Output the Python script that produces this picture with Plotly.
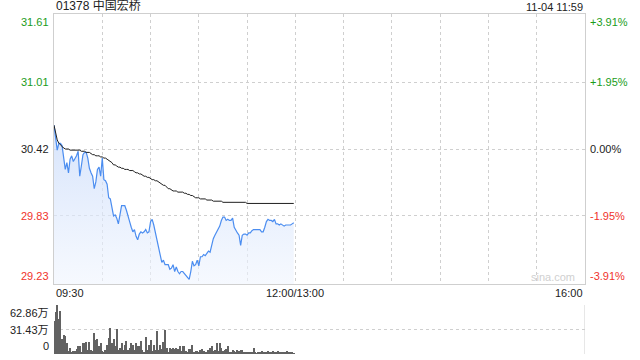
import plotly.graph_objects as go
from plotly.subplots import make_subplots

title_text = "01378 中国宏桥"
time_text = "11-04 11:59"
prev_close = 30.42

# price per minute from 09:30 (minute index 0..149)
price = [30.63, 30.50, 30.41, 30.47, 30.47, 30.45, 30.33, 30.24, 30.30, 30.21,
         30.33, 30.36, 30.31, 30.33, 30.36, 30.40, 30.18, 30.27, 30.37, 30.39,
         30.39, 30.34, 30.25, 30.21, 30.18, 30.07, 30.13, 30.24, 30.26, 30.18,
         30.34, 30.15, 30.14, 30.11, 29.99, 29.98, 29.91, 29.83, 29.84, 29.81,
         29.76, 29.86, 29.92, 29.92, 29.92, 29.88, 29.82, 29.78, 29.73, 29.69,
         29.71, 29.65, 29.62, 29.67, 29.69, 29.68, 29.69, 29.71, 29.68, 29.69,
         29.78, 29.80, 29.75, 29.68, 29.60, 29.53, 29.46, 29.42, 29.44, 29.40,
         29.40, 29.40, 29.36, 29.37, 29.40, 29.34, 29.38, 29.34, 29.32, 29.34,
         29.34, 29.32, 29.31, 29.29, 29.27, 29.34, 29.43, 29.39, 29.40, 29.44,
         29.39, 29.47, 29.47, 29.49, 29.48, 29.50, 29.52, 29.51, 29.58, 29.63,
         29.66, 29.69, 29.71, 29.74, 29.79, 29.82, 29.82, 29.79, 29.80, 29.79,
         29.79, 29.81, 29.73, 29.70, 29.68, 29.66, 29.57, 29.66, 29.67, 29.67,
         29.66, 29.68, 29.68, 29.70, 29.71, 29.71, 29.71, 29.71, 29.71, 29.69,
         29.69, 29.73, 29.78, 29.80, 29.79, 29.79, 29.78, 29.80, 29.76, 29.76,
         29.75, 29.76, 29.75, 29.74, 29.75, 29.75, 29.75, 29.75, 29.76, 29.77]

avg_price = [30.63, 30.55, 30.50, 30.47, 30.46, 30.44, 30.43, 30.42, 30.42, 30.42,
             30.41, 30.41, 30.41, 30.41, 30.41, 30.41, 30.41, 30.40, 30.40, 30.40,
             30.39, 30.39, 30.39, 30.38, 30.37, 30.37, 30.36, 30.36, 30.36, 30.35,
             30.35, 30.34, 30.34, 30.33, 30.32, 30.31, 30.30, 30.28, 30.28, 30.27,
             30.26, 30.26, 30.25, 30.25, 30.24, 30.24, 30.24, 30.23, 30.23, 30.23,
             30.22, 30.21, 30.21, 30.20, 30.20, 30.19, 30.18, 30.18, 30.17, 30.17,
             30.16, 30.15, 30.15, 30.14, 30.14, 30.13, 30.12, 30.11, 30.10, 30.10,
             30.08, 30.07, 30.07, 30.06, 30.05, 30.05, 30.05, 30.04, 30.04, 30.04,
             30.04, 30.03, 30.03, 30.02, 30.02, 30.01, 30.01, 30.00, 29.99, 29.99,
             29.99, 29.98, 29.98, 29.98, 29.98, 29.97, 29.97, 29.97, 29.97, 29.96,
             29.96, 29.96, 29.96, 29.96, 29.96, 29.95, 29.95, 29.95, 29.95, 29.95,
             29.95, 29.95, 29.95, 29.95, 29.95, 29.95, 29.95, 29.95, 29.95, 29.95,
             29.94, 29.94, 29.94, 29.94, 29.94, 29.94, 29.94, 29.94, 29.94, 29.94,
             29.94, 29.94, 29.94, 29.94, 29.94, 29.94, 29.94, 29.94, 29.94, 29.94,
             29.94, 29.94, 29.94, 29.94, 29.94, 29.94, 29.94, 29.94, 29.94, 29.94]

# volume per minute, unit 万
volume = [42.0, 53.5, 62.86, 45.3, 55.6, 19.2, 24.8, 23.5, 14.1, 3.4,
          7.7, 1.3, 3.4, 3.4, 6.4, 10.7, 9.8, 1.3, 14.1, 14.1,
          15.0, 4.7, 15.0, 5.6, 3.4, 26.9, 18.4, 19.2, 10.7, 14.1,
          3.4, 1.3, 5.6, 12.0, 20.5, 33.4, 14.1, 19.2, 9.8, 32.1,
          5.6, 7.7, 14.1, 5.6, 12.0, 16.3, 5.6, 7.7, 14.1, 12.0,
          5.6, 14.1, 9.8, 9.8, 16.3, 5.6, 2.1, 21.8, 5.6, 12.0,
          18.4, 3.4, 12.0, 5.6, 29.1, 5.6, 12.0, 6.4, 15.0, 30.4,
          7.7, 1.3, 7.7, 6.4, 7.7, 6.4, 7.7, 6.4, 9.8, 3.4,
          10.7, 9.8, 3.4, 2.1, 6.4, 6.4, 12.0, 2.1, 3.4, 4.3,
          1.3, 5.6, 6.4, 3.4, 2.1, 2.1, 5.6, 7.7, 9.8, 3.4,
          5.6, 14.1, 3.4, 14.1, 7.7, 3.4, 5.6, 6.4, 10.7, 2.1,
          1.3, 5.6, 3.4, 2.1, 5.6, 3.4, 5.6, 5.6, 1.3, 2.1,
          1.3, 1.3, 2.1, 1.3, 7.7, 1.3, 0.4, 2.1, 1.3, 3.4,
          2.1, 2.1, 1.3, 3.4, 1.3, 1.3, 3.4, 1.3, 1.3, 3.4,
          1.3, 2.1, 1.3, 1.3, 2.1, 3.4, 2.1, 1.3, 2.1, 1.0]

price_ticks = [31.61, 31.01, 30.42, 29.83, 29.23]
price_tick_labels = ["31.61", "31.01", "30.42", "29.83", "29.23"]
pct_tick_labels = ["+3.91%", "+1.95%", "0.00%", "-1.95%", "-3.91%"]
vol_ticks = [0, 31.43, 62.86]
vol_tick_labels = ["0", "31.43万", "62.86万"]
x_tick_vals = [0, 150, 330]
x_tick_labels = ["09:30", "12:00/13:00", "16:00"]
total_minutes = 330

GREEN = "#1a9c1a"
RED = "#f0332b"
DARK = "#222222"
GRID = "#cfcfcf"
FONT = "Liberation Sans, Arial, Noto Sans CJK SC, sans-serif"

minutes = list(range(len(price)))

fig = make_subplots(rows=2, cols=1, shared_xaxes=False, vertical_spacing=0.0)

fig.add_trace(go.Scatter(
    x=minutes, y=price, mode="lines",
    line=dict(color="#4b8df0", width=1.2),
    fill="tozeroy",
    fillgradient=dict(type="vertical",
                      colorscale=[[0, "rgba(240,245,254,0.6)"], [1, "rgba(200,218,250,0.75)"]],
                      start=price_ticks[-1], stop=max(price)),
    hoverinfo="skip", showlegend=False), row=1, col=1)

fig.add_trace(go.Scatter(
    x=minutes, y=avg_price, mode="lines",
    line=dict(color="#1f1f1f", width=1),
    hoverinfo="skip", showlegend=False), row=1, col=1)

fig.add_trace(go.Bar(
    x=minutes, y=volume, marker=dict(color="#626262", line=dict(width=0)),
    width=0.62, hoverinfo="skip", showlegend=False), row=2, col=1)

fig.update_layout(
    width=640, height=360,
    margin=dict(l=54, r=55, t=14, b=6),
    paper_bgcolor="white", plot_bgcolor="white",
    font=dict(family=FONT, size=11, color=DARK),
    bargap=0,
    xaxis=dict(domain=[0, 1], range=[0, total_minutes], anchor="y",
               tickvals=list(range(30, total_minutes, 30)), showticklabels=False,
               showgrid=True, gridcolor=GRID, griddash="dot", gridwidth=1,
               showline=True, linecolor=GRID, linewidth=1, mirror=True,
               zeroline=False, ticks=""),
    yaxis=dict(domain=[70 / 340, 1], range=[price_ticks[-1], price_ticks[0]],
               tickvals=price_ticks[1:4], showticklabels=False,
               showgrid=True, gridcolor=GRID, griddash="dot", gridwidth=1,
               showline=True, linecolor=GRID, linewidth=1, mirror=True,
               zeroline=False, ticks=""),
    xaxis2=dict(domain=[0, 1], range=[0, total_minutes], anchor="y2",
                showticklabels=False, showgrid=False, showline=False,
                zeroline=False, ticks=""),
    yaxis2=dict(domain=[0, 49 / 340], range=[0, vol_ticks[-1]],
                tickvals=vol_ticks, showticklabels=False,
                showgrid=True, gridcolor=GRID, griddash="dot", gridwidth=1,
                showline=False, zeroline=False, ticks=""),
)

# right border of volume panel
fig.add_shape(type="line", xref="x2", yref="y2", x0=total_minutes, x1=total_minutes,
              y0=0, y1=vol_ticks[-1], line=dict(color=GRID, width=1))

ann = []
colors = [GREEN, GREEN, DARK, RED, RED]
anchors = ["top", "middle", "middle", "middle", "bottom"]
for v, lab, pl, c, a in zip(price_ticks, price_tick_labels, pct_tick_labels, colors, anchors):
    ann.append(dict(x=0, y=v, xref="x", yref="y", text=lab, showarrow=False,
                    xanchor="right", yanchor=a, xshift=-3, font=dict(color=c, size=11)))
    ann.append(dict(x=total_minutes, y=v, xref="x", yref="y", text=pl, showarrow=False,
                    xanchor="left", yanchor=a, xshift=3, font=dict(color=c, size=11)))

vol_anchors = ["bottom", "middle", "top"]
for v, lab, a in zip(vol_ticks, vol_tick_labels, vol_anchors):
    ann.append(dict(x=0, y=v, xref="x2", yref="y2", text=lab, showarrow=False,
                    xanchor="right", yanchor=a, xshift=-3, font=dict(color=DARK, size=11)))

x_anchors = ["left", "center", "right"]
for v, lab, a in zip(x_tick_vals, x_tick_labels, x_anchors):
    ann.append(dict(x=v, y=price_ticks[-1], xref="x", yref="y", text=lab, showarrow=False,
                    xanchor=a, yanchor="top", yshift=-1, font=dict(color=DARK, size=11)))

ann.append(dict(x=0, y=price_ticks[0], xref="x", yref="y", text=title_text, showarrow=False,
                xanchor="left", yanchor="bottom", yshift=-1, font=dict(color=DARK, size=12)))
ann.append(dict(x=total_minutes, y=price_ticks[0], xref="x", yref="y", text=time_text,
                showarrow=False, xanchor="right", yanchor="bottom", yshift=-1,
                font=dict(color=DARK, size=11)))
ann.append(dict(x=total_minutes, y=price_ticks[-1], xref="x", yref="y", text="sina.com",
                showarrow=False, xanchor="right", yanchor="bottom", xshift=-8, yshift=-1,
                font=dict(color="#d0d0d0", size=11)))

fig.update_layout(annotations=ann)

fig.write_html("out.html")
